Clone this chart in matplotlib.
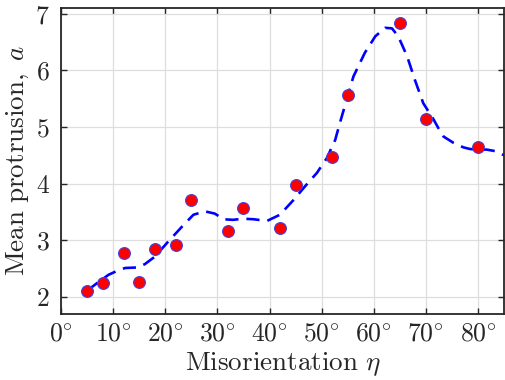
import matplotlib
matplotlib.use("Agg")
import matplotlib.pyplot as plt

# Data
eta_pts = [5, 8, 12, 15, 18, 22, 25, 32, 35, 42, 45, 52, 55, 65, 70, 80]
a_pts = [2.10, 2.25, 2.77, 2.26, 2.85, 2.91, 3.71, 3.16, 3.57, 3.21, 3.97,
         4.47, 5.57, 6.84, 5.14, 4.64]

eta_fit = [5, 7, 9.1, 11, 12.3, 14.8, 16.1, 18.0, 20.3, 23.2, 25.4, 27.6, 29.5,
           31.2, 33, 35.0, 37, 39.5, 42.0, 44.6, 46.8, 49.1, 51.0, 52.6, 53.6,
           56.1, 58.3, 60.3, 62.2, 63.5, 64.7, 66.4, 67.9, 69.5, 71.5, 72.4,
           73.4, 75.3, 77.2, 78.5, 80.1, 81.7, 83.5, 85]
a_fit = [2.11, 2.25, 2.39, 2.47, 2.51, 2.52, 2.58, 2.71, 2.95, 3.24, 3.45, 3.51,
         3.47, 3.37, 3.36, 3.38, 3.37, 3.34, 3.45, 3.71, 3.95, 4.19, 4.45, 4.77,
         5.10, 5.89, 6.31, 6.60, 6.75, 6.74, 6.60, 6.25, 5.83, 5.42, 5.13, 4.98,
         4.83, 4.72, 4.64, 4.61, 4.60, 4.60, 4.57, 4.50]

xticks = [0, 10, 20, 30, 40, 50, 60, 70, 80]
xticklabels = [rf"${t}^{{\circ}}$" for t in xticks]
yticks = [2, 3, 4, 5, 6, 7]
yticklabels = [rf"${t}$" for t in yticks]

plt.rcParams['font.family'] = ['cmr10', 'DejaVu Serif']
plt.rcParams['mathtext.fontset'] = 'cm'
plt.rcParams['axes.unicode_minus'] = False

fig = plt.figure(figsize=(5.05, 3.8), dpi=100)
ax = fig.add_axes([0.121, 0.174, 0.877, 0.805])

ax.grid(True, color='#dedede', linewidth=0.9, zorder=0)
ax.set_axisbelow(True)

ax.plot(eta_fit, a_fit, linestyle=(0, (5, 3)), color='#0000ff', linewidth=1.9, zorder=2)
ax.plot(eta_pts, a_pts, linestyle='none', marker='o', markersize=8.5,
        markerfacecolor='#ff0000', markeredgecolor='#4040e0', markeredgewidth=0.8, zorder=3)

ax.set_xlim(0, 85)
ax.set_ylim(1.7, 7.1)
ax.set_xticks(xticks)
ax.set_xticklabels(xticklabels)
ax.set_yticks(yticks)
ax.set_yticklabels(yticklabels)

ax.tick_params(direction='in', length=4, width=1, top=True, right=True,
               labelsize=18.5, color='#262626', labelcolor='#262626')
ax.tick_params(axis='x', pad=6)
ax.tick_params(axis='y', pad=8)
for s in ax.spines.values():
    s.set_linewidth(1.3)
    s.set_color('#262626')

ax.set_xlabel(r'$\mathrm{Misorientation}\ \eta$', fontsize=19.5, labelpad=3, color='#262626')
ax.set_ylabel(r'$\mathrm{Mean\ protrusion,}\ a$', fontsize=19.5, labelpad=3, color='#262626')

fig.savefig('out.png', dpi=100)
